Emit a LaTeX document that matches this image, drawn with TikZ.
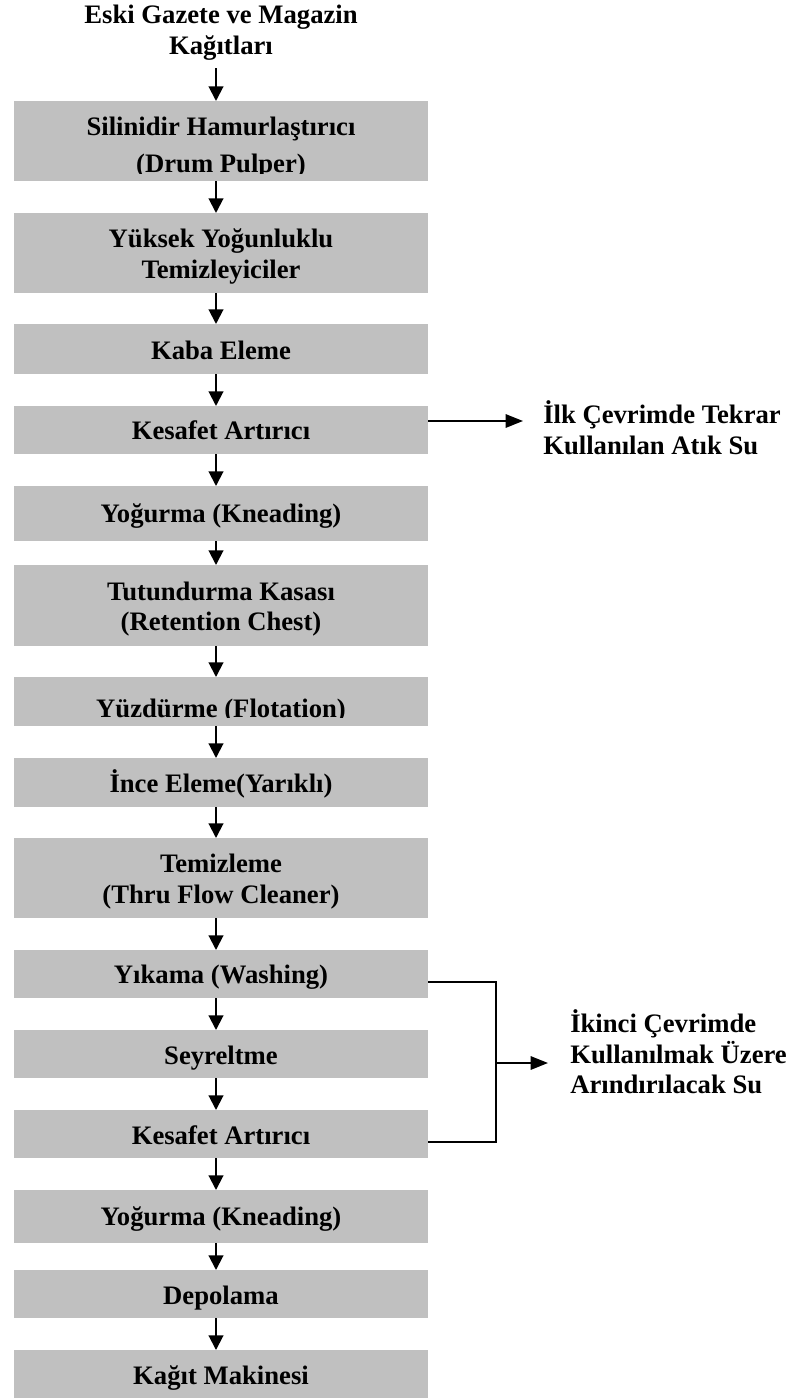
\documentclass[tikz,border=0pt]{standalone}
\usepackage{fontspec}
\setmainfont{Liberation Serif}
\usetikzlibrary{arrows.meta}
\definecolor{stagegray}{RGB}{192,192,192}
\begin{document}
\begin{tikzpicture}[x=0.75pt,y=-0.75pt,
  stage/.style={fill=stagegray, draw=none, inner sep=0pt, outer sep=0pt, minimum width=310.5pt},
  txt/.style={inner sep=0pt, anchor=base, font=\fontsize{20pt}{23pt}\selectfont\bfseries},
  ltxt/.style={txt, anchor=base west},
  flow/.style={line width=1.5pt, -{Triangle[length=11pt,width=11pt]}},
  side/.style={line width=1.5pt, -{Triangle[length=13pt,width=10pt]}},
  bracket/.style={line width=1.1pt}]
\useasboundingbox (0,0) rectangle (788,1399);

% process stages
\node[stage, minimum height=60pt]    (b1)  at (221,141)    {};
\node[stage, minimum height=60pt]    (b2)  at (221,253)    {};
\node[stage, minimum height=37.5pt]  (b3)  at (221,349)    {};
\node[stage, minimum height=36pt]    (b4)  at (221,430)    {};
\node[stage, minimum height=41.25pt] (b5)  at (221,513.5)  {};
\node[stage, minimum height=60.75pt] (b6)  at (221,605.5)  {};
\node[stage, minimum height=36.75pt] (b7)  at (221,701.5)  {};
\node[stage, minimum height=36.75pt] (b8)  at (221,782.5)  {};
\node[stage, minimum height=60pt]    (b9)  at (221,878)    {};
\node[stage, minimum height=36pt]    (b10) at (221,974)    {};
\node[stage, minimum height=36pt]    (b11) at (221,1054)   {};
\node[stage, minimum height=36pt]    (b12) at (221,1134)   {};
\node[stage, minimum height=39.75pt] (b13) at (221,1216.5) {};
\node[stage, minimum height=36pt]    (b14) at (221,1294)   {};
\node[stage, minimum height=36pt]    (b15) at (221,1374)   {};

% source label
\node[txt] (src1) at (221,23) {Eski Gazete ve Magazin};
\node[txt] (src2) at (221,54) {Kağıtları};

% stage labels
\begin{scope}
  \clip (14,101) rectangle (428,173);
  \node[txt] (l1a) at (221,135) {Silinidir Hamurlaştırıcı};
  \node[txt] (l1b) at (221,172) {(Drum Pulper)};
\end{scope}
\node[txt] (l2a) at (221,247) {Yüksek Yoğunluklu};
\node[txt] (l2b) at (221,278) {Temizleyiciler};
\node[txt] (l3)  at (221,359) {Kaba Eleme};
\node[txt] (l4)  at (221,439) {Kesafet Artırıcı};
\node[txt] (l5)  at (221,522) {Yoğurma (Kneading)};
\node[txt] (l6a) at (221,600) {Tutundurma Kasası};
\node[txt] (l6b) at (221,630) {(Retention Chest)};
\begin{scope}
  \clip (14,677) rectangle (428,717);
  \node[txt] (l7) at (221,717) {Yüzdürme (Flotation)};
\end{scope}
\node[txt] (l8)  at (221,792)  {İnce Eleme(Yarıklı)};
\node[txt] (l9a) at (221,872)  {Temizleme};
\node[txt] (l9b) at (221,903)  {(Thru Flow Cleaner)};
\node[txt] (l10) at (221,983)  {Yıkama (Washing)};
\node[txt] (l11) at (221,1064) {Seyreltme};
\node[txt] (l12) at (221,1144) {Kesafet Artırıcı};
\node[txt] (l13) at (221,1225) {Yoğurma (Kneading)};
\node[txt] (l14) at (221,1304) {Depolama};
\node[txt] (l15) at (221,1384) {Kağıt Makinesi};

% water outputs
\node[ltxt] (w1a) at (543,423)  {İlk Çevrimde Tekrar};
\node[ltxt] (w1b) at (543,454)  {Kullanılan Atık Su};
\node[ltxt] (w2a) at (570,1032) {İkinci Çevrimde};
\node[ltxt] (w2b) at (570,1063) {Kullanılmak Üzere};
\node[ltxt] (w2c) at (570,1093) {Arındırılacak Su};

% main flow
\coordinate (s0) at (216,68);
\draw[flow] (s0) -- ([xshift=-3.75pt]b1.north);
\foreach \a/\b in {b1/b2,b2/b3,b3/b4,b4/b5,b5/b6,b6/b7,b7/b8,b8/b9,b9/b10,b10/b11,b11/b12,b12/b13,b13/b14,b14/b15}
  \draw[flow] ([xshift=-3.75pt]\a.south) -- ([xshift=-3.75pt]\b.north);

% first-cycle water
\coordinate (r1) at (523,421);
\draw[side] ([yshift=6.75pt]b4.east) -- (r1);

% second-cycle water
\coordinate (j) at (496,1063);
\coordinate (r2) at (548,1063);
\draw[bracket] ([yshift=-6pt]b10.east) -| (j) |- ([yshift=-6pt]b12.east);
\draw[side] (j) -- (r2);
\end{tikzpicture}
\end{document}
